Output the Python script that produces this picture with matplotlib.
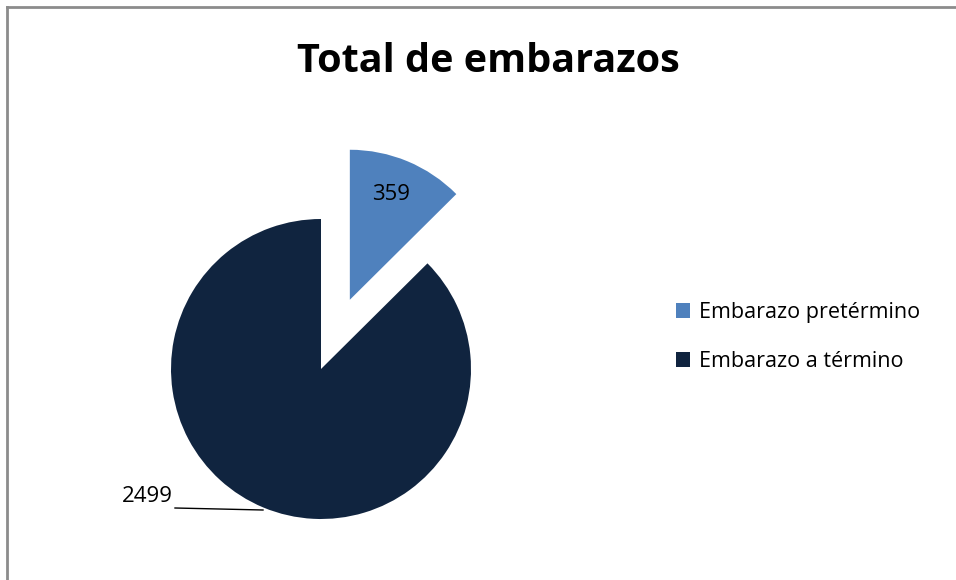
import matplotlib.pyplot as plt
from matplotlib.lines import Line2D

plt.rcParams['font.family'] = ['Open Sans', 'DejaVu Sans']

title = "Total de embarazos"
categories = ["Embarazo pretérmino", "Embarazo a término"]
values = [359, 2499]
colors = ["#4F81BD", "#10243F"]

W, H = 956, 580
fig = plt.figure(figsize=(W / 100, H / 100), dpi=100)
ax = fig.add_axes([0, 0, 1, 1])

# pie in pixel space (y up); explode is in data units here
cx, cy, r = 321, H - 369, 150
wedges, texts = ax.pie(values, colors=colors, startangle=90, counterclock=False,
                       explode=[0.5 * r, 0], center=(cx, cy), radius=r, frame=True)
ax.set_xlim(0, W)
ax.set_ylim(0, H)
ax.set_aspect('equal')
ax.axis('off')

# data labels
ax.text(391, H - 195, str(values[0]), ha='center', va='center', fontsize=16, color='black')
ax.text(173, H - 497, str(values[1]), ha='right', va='center', fontsize=16, color='black')
ax.plot([175, 263], [H - 508, H - 510], color='black', lw=1)

ax.text(488, H - 61, title, ha='center', va='center', fontsize=28.5, fontweight='bold')

leg = ax.legend(wedges, categories, loc='center left', bbox_to_anchor=(657 / W, 1 - 337 / H),
                frameon=False, fontsize=15.5, handlelength=0.65, handleheight=0.65,
                handletextpad=0.4, labelspacing=1.3)

# chart area border (only left and top visible)
fig.add_artist(Line2D([7 / W, 7 / W], [0, 1 - 7 / H], color='#8c8c8c', lw=2))
fig.add_artist(Line2D([7 / W, 1], [1 - 7 / H, 1 - 7 / H], color='#8c8c8c', lw=2))

fig.savefig('out.png', dpi=100)
